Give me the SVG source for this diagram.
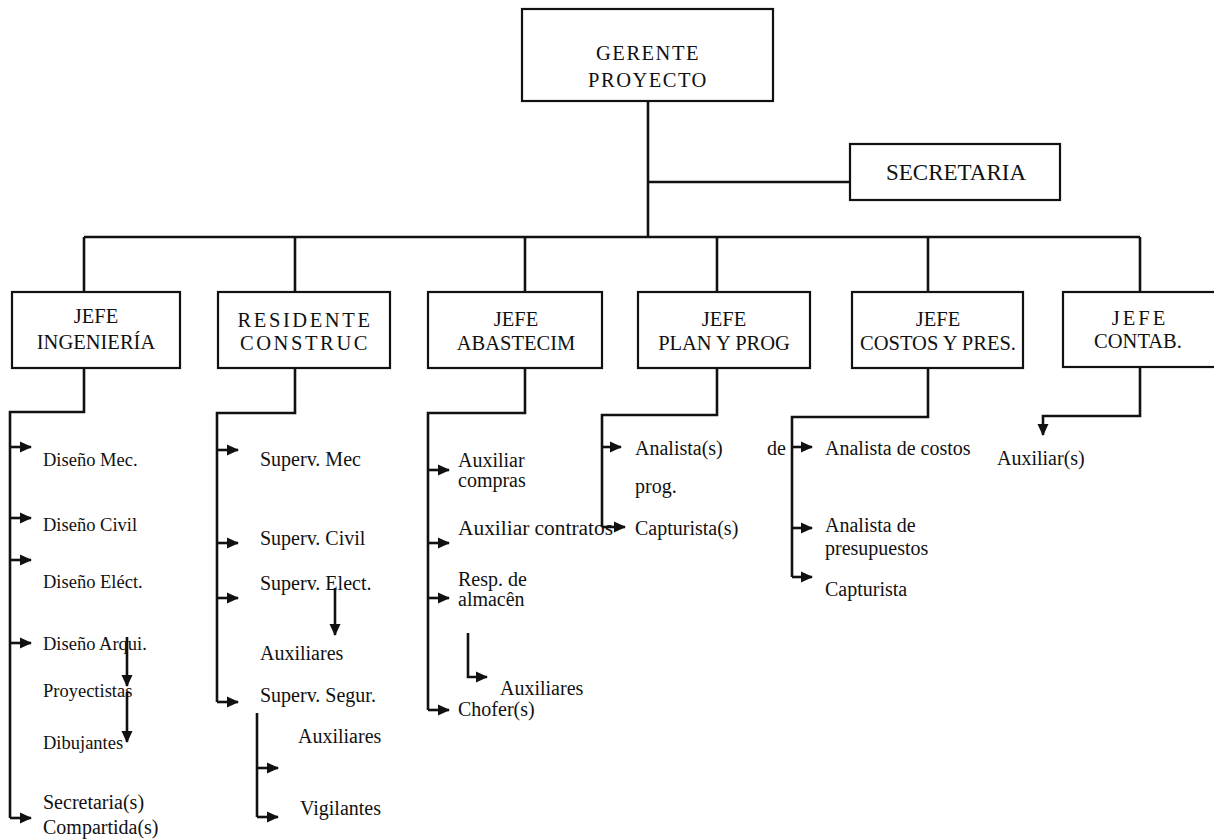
<svg xmlns="http://www.w3.org/2000/svg" width="1214" height="839" viewBox="0 0 1214 839">
<defs>
<marker id="ah" markerWidth="12" markerHeight="12" refX="11" refY="6" orient="auto" markerUnits="userSpaceOnUse"><path d="M0,0.5 L12,6 L0,11.5 z" fill="#111"/></marker>
<style>
.box{fill:#fff;stroke:#111;stroke-width:2.2}
.ln{fill:none;stroke:#111;stroke-width:2.6}
.ar{fill:none;stroke:#111;stroke-width:2.6;marker-end:url(#ah)}
text{font-family:"Liberation Serif","Times New Roman","DejaVu Serif",serif;fill:#111}
.bt{font-size:20.5px;text-anchor:middle}
.st{font-size:20px}
.sm{font-size:18.5px}
</style>
</defs>
<rect width="1214" height="839" fill="#fff"/>
<g id="connectors">
<path class="ln" d="M648,101 V237 M648,182 H850 M84,237 H1140"/>
<path class="ln" d="M84,237 V292 M295,237 V292 M525,237 V292 M717,237 V292 M928,237 V292 M1140,237 V292"/>
<path class="ln" d="M84,368 V412 H10 V818"/>
<path class="ar" d="M10,447 H31"/><path class="ar" d="M10,518 H31"/><path class="ar" d="M10,560 H31"/><path class="ar" d="M10,643 H31"/><path class="ar" d="M10,818 H31"/>
<path class="ar" d="M127,637 V686"/><path class="ar" d="M127,692 V742"/>
<path class="ln" d="M295,368 V413 H217 V702"/>
<path class="ar" d="M217,450 H238"/><path class="ar" d="M217,543 H238"/><path class="ar" d="M217,598 H238"/><path class="ar" d="M217,702 H238"/>
<path class="ar" d="M335,588 V635"/>
<path class="ln" d="M257,713 V817"/>
<path class="ar" d="M257,768 H278"/><path class="ar" d="M257,817 H278"/>
<path class="ln" d="M525,368 V413 H428 V710"/>
<path class="ar" d="M428,470 H449"/><path class="ar" d="M428,543 H449"/><path class="ar" d="M428,598 H449"/><path class="ar" d="M428,710 H449"/>
<path class="ar" d="M468,633 V677 H487"/>
<path class="ln" d="M717,368 V415 H602 V527"/>
<path class="ar" d="M602,447 H621"/><path class="ar" d="M602,527 H625"/>
<path class="ln" d="M928,368 V417 H792 V577"/>
<path class="ar" d="M792,447 H812"/><path class="ar" d="M792,528 H812"/><path class="ar" d="M792,577 H812"/>
<path class="ar" d="M1140,368 V416 H1043 V435"/>
</g>
<g id="gerente"><rect class="box" x="522" y="9" width="251" height="92"/>
<text class="bt" x="648" y="60" letter-spacing="1.5">GERENTE</text>
<text class="bt" x="648" y="87" letter-spacing="1.5">PROYECTO</text></g>
<g id="secretaria"><rect class="box" x="850" y="144" width="210" height="56"/>
<text x="956" y="180" font-size="23" text-anchor="middle">SECRETARIA</text></g>
<g id="ingenieria"><rect class="box" x="12" y="292" width="168" height="76"/>
<text class="bt" x="96" y="323">JEFE</text><text class="bt" x="96" y="349">INGENIERÍA</text></g>
<g id="residente"><rect class="box" x="218" y="292" width="172" height="76"/>
<text class="bt" x="305" y="327" letter-spacing="2.6">RESIDENTE</text><text class="bt" x="305" y="350" letter-spacing="2.6">CONSTRUC</text></g>
<g id="abastecim"><rect class="box" x="428" y="292" width="174" height="76"/>
<text class="bt" x="516" y="326">JEFE</text><text class="bt" x="516" y="350">ABASTECIM</text></g>
<g id="plan"><rect class="box" x="638" y="292" width="172" height="76"/>
<text class="bt" x="724" y="326">JEFE</text><text class="bt" x="724" y="350">PLAN Y PROG</text></g>
<g id="costos"><rect class="box" x="852" y="292" width="171" height="76"/>
<text class="bt" x="938" y="326">JEFE</text><text class="bt" x="938" y="350" font-size="21.5">COSTOS Y PRES.</text></g>
<g id="contab"><rect class="box" x="1063" y="292" width="160" height="75"/>
<text class="bt" x="1140" y="325" letter-spacing="3">JEFE</text><text class="bt" x="1138" y="348">CONTAB.</text></g>
<g id="ing-items">
<text class="sm" x="43" y="466">Diseño Mec.</text>
<text class="sm" x="43" y="531">Diseño Civil</text>
<text class="sm" x="43" y="588">Diseño Eléct.</text>
<text class="sm" x="43" y="650">Diseño Arqui.</text>
<text class="sm" x="43" y="697">Proyectistas</text>
<text class="sm" x="43" y="749">Dibujantes</text>
<text class="st" x="43" y="809">Secretaria(s)</text>
<text class="st" x="43" y="834">Compartida(s)</text>
</g>
<g id="res-items">
<text class="st" x="260" y="466">Superv. Mec</text>
<text class="st" x="260" y="545">Superv. Civil</text>
<text class="st" x="260" y="590">Superv. Elect.</text>
<text class="st" x="260" y="660">Auxiliares</text>
<text class="st" x="260" y="702">Superv. Segur.</text>
<text class="st" x="298" y="743">Auxiliares</text>
<text class="st" x="300" y="815">Vigilantes</text>
</g>
<g id="aba-items">
<text class="st" x="458" y="467">Auxiliar</text>
<text class="st" x="458" y="487">compras</text>
<text class="st" x="458" y="535" textLength="155" lengthAdjust="spacingAndGlyphs">Auxiliar contratos</text>
<text class="st" x="458" y="586">Resp. de</text>
<text class="st" x="458" y="606">almacên</text>
<text class="st" x="500" y="695">Auxiliares</text>
<text class="st" x="458" y="716">Chofer(s)</text>
</g>
<g id="plan-items">
<text class="st" x="635" y="455">Analista(s)</text>
<text class="st" x="635" y="493">prog.</text>
<text class="st" x="635" y="535">Capturista(s)</text>
<text class="st" x="767" y="455">de</text>
</g>
<g id="cos-items">
<text class="st" x="825" y="455">Analista de costos</text>
<text class="st" x="825" y="532">Analista de</text>
<text class="st" x="825" y="555">presupuestos</text>
<text class="st" x="825" y="596">Capturista</text>
</g>
<g id="con-items">
<text class="st" x="997" y="465">Auxiliar(s)</text>
</g>
</svg>
